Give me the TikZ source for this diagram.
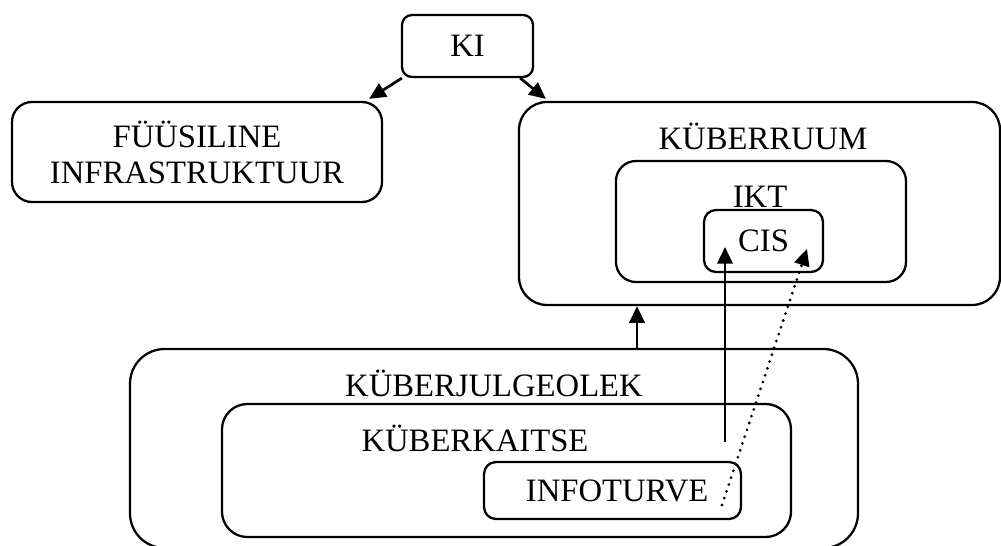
\documentclass[tikz,border=0pt]{standalone}
\usepackage{fontspec}
\setmainfont{Liberation Serif}
\usepackage{tikz}
\usetikzlibrary{arrows.meta,calc}
\colorlet{kastLine}{black}
\tikzset{
  kastbox/.style={
    rectangle, draw=kastLine, line width=1.7pt, inner sep=0pt,
    align=center, font=\fontsize{24.5}{27}\selectfont
  },
  kasttitle/.style={anchor=base, inner sep=0pt, font=\fontsize{24.5}{28}\selectfont},
  kastarrow/.style={-{Triangle[length=12.5pt,width=11.5pt]}, line width=2pt, draw=kastLine},
  kastdots/.style={-{Triangle[length=12.5pt,width=11.5pt]}, line width=2.3pt, draw=kastLine,
    line cap=round, dash pattern=on 0pt off 5.4pt}
}

\begin{document}
\begin{tikzpicture}[x=0.75pt,y=-0.75pt]
  \useasboundingbox (0,0) rectangle (1001,546);

  % upper row
  \node[kastbox, rounded corners=7.5pt, minimum width=98.25pt, minimum height=46.5pt] (ki) at (467.5,46) {KI};
  \node[kastbox, rounded corners=15pt, minimum width=277.5pt, minimum height=75pt] (fyys) at (197,152)
    {FÜÜSILINE\\INFRASTRUKTUUR};
  \node[kastbox, rounded corners=21pt, minimum width=360.75pt, minimum height=152.25pt] (kr) at (759.5,203.5) {};
  \node[kastbox, rounded corners=15pt, minimum width=217.5pt, minimum height=90.75pt] (ikt) at (761,221.5) {};
  \node[kastbox, rounded corners=9pt, minimum width=89.25pt, minimum height=46.5pt] (cis) at (763.5,241) {CIS};
  \node[kasttitle] (krt) at (763,149) {KÜBERRUUM};
  \node[kasttitle] (iktt) at (760,207) {IKT};

  % lower block
  \node[kastbox, rounded corners=26pt, minimum width=546pt, minimum height=149.25pt] (kj) at (494,448.5) {};
  \node[kastbox, rounded corners=19pt, minimum width=426.75pt, minimum height=99.75pt] (kk) at (506.5,470.5) {};
  \node[kastbox, rounded corners=9pt, minimum width=192.75pt, minimum height=42.75pt] (info) at (612.5,490.5)
    {\hspace*{7pt}INFOTURVE};
  \node[kasttitle] (kjt) at (494,396) {KÜBERJULGEOLEK};
  \node[kasttitle] (kkt) at (475,451) {KÜBERKAITSE};

  \coordinate (up) at (637,0);
  \coordinate (s1) at (725,442);
  \coordinate (s2) at (725,247);
  \coordinate (d1) at (722,505);
  \coordinate (d2) at (807,249);

  \draw[kastarrow] ($(ki.south west)+(1,0)$) -- ($(fyys.north east)+(-14,-2)$);
  \draw[kastarrow] ($(ki.south east)+(-14,0)$) -- ($(kr.north west)+(28,-2)$);
  \draw[kastarrow] (kj.north -| up) -- (kr.south -| up);
  \draw[kastarrow] (s1) -- (s2);
  \draw[kastdots] (d1) -- (d2);
\end{tikzpicture}
\end{document}
